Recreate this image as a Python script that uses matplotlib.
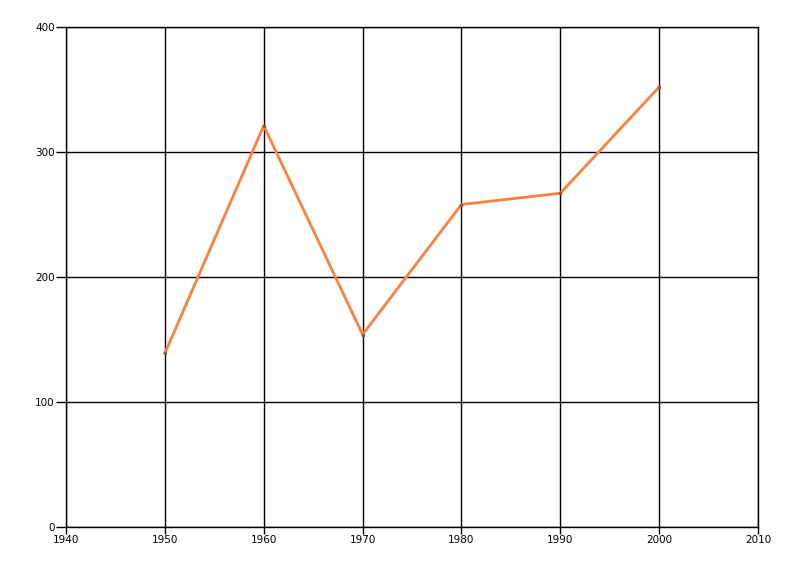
import matplotlib
matplotlib.use("Agg")
import matplotlib.pyplot as plt

years = [1950, 1960, 1970, 1980, 1990, 2000]
values = [139, 321, 154, 258, 267, 352]
x_ticks = [1940, 1950, 1960, 1970, 1980, 1990, 2000, 2010]
y_ticks = [0, 100, 200, 300, 400]

fig = plt.figure(figsize=(8, 5.76), dpi=100)
ax = fig.add_axes([66/800, 49/576, 692/800, 500/576])
ax.set_xlim(1940, 2010)
ax.set_ylim(0, 400)
ax.set_xticks(x_ticks)
ax.set_yticks(y_ticks)
ax.grid(True, color="black", linewidth=1)
ax.set_axisbelow(True)
for s in ax.spines.values():
    s.set_color("black")
    s.set_linewidth(1)
ax.tick_params(axis="both", labelsize=7.5, color="black", length=5, width=1, pad=1)
ax.tick_params(axis="y", length=7)
ax.plot(years, values, color="#FF7F3F", linewidth=2, zorder=3)
ax.plot(years, values, linestyle="none", marker="s", markersize=2, color="#7F5F4F", zorder=4)
fig.savefig("out.png", dpi=100)
